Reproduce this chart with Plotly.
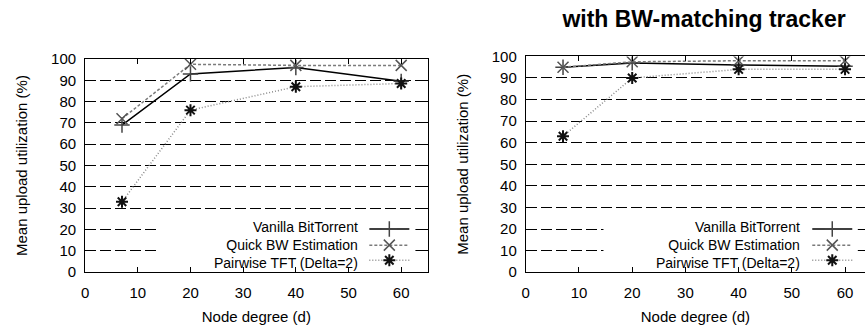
import plotly.graph_objects as go

degrees = [7, 20, 40, 60]
series_names = ["Vanilla BitTorrent", "Quick BW Estimation", "Pairwise TFT (Delta=2)"]

left_vanilla = [69, 93, 96, 89.5]
left_quick = [72, 97.5, 97, 97]
left_pairwise = [33, 76, 87, 88.5]

right_vanilla = [95, 97, 96, 95.5]
right_quick = [95, 97.5, 98, 98]
right_pairwise = [63, 90, 94, 94]

x_ticks = [0, 10, 20, 30, 40, 50, 60]
y_ticks = [0, 10, 20, 30, 40, 50, 60, 70, 80, 90, 100]

title_text = "with BW-matching tracker"
x_title = "Node degree (d)"
y_title = "Mean upload utilization (%)"

FONT = "Liberation Sans, Arial, sans-serif"

styles = [
    dict(line=dict(color="#000000", width=1.5, dash="solid"),
         marker=dict(symbol="cross-thin", size=11, color="#444444",
                     line=dict(color="#444444", width=1.5))),
    dict(line=dict(color="#7a7a7a", width=1.5, dash="3px,2px"),
         marker=dict(symbol="x-thin", size=11, color="#555555",
                     line=dict(color="#555555", width=1.5))),
    dict(line=dict(color="#8a8a8a", width=1.5, dash="1px,2px"),
         marker=dict(symbol="asterisk", size=10, color="#111111",
                     line=dict(color="#111111", width=2))),
]

legend_rows = [232, 249, 265]
panels = [
    dict(data=[left_vanilla, left_quick, left_pairwise], xa="x", ya="y",
         legend_x=362, text_x=358),
    dict(data=[right_vanilla, right_quick, right_pairwise], xa="x2", ya="y2",
         legend_x=807, text_x=801.7),
]

fig = go.Figure()
legend_layouts = {}
k = 0
for p in panels:
    for i, ys in enumerate(p["data"]):
        k += 1
        lname = "legend" if k == 1 else f"legend{k}"
        fig.add_trace(go.Scatter(x=degrees, y=ys, mode="lines+markers", name="",
                                 hovertext=series_names[i], xaxis=p["xa"], yaxis=p["ya"],
                                 legend=lname, **styles[i]))
        legend_layouts[lname] = dict(
            x=p["legend_x"] / 865, xanchor="left",
            y=1 - legend_rows[i] / 329, yanchor="middle",
            bgcolor="rgba(0,0,0,0)", borderwidth=0, itemwidth=40,
            font=dict(size=8))

axis_common = dict(showline=True, linecolor="black", linewidth=1,
                   ticks="inside", ticklen=5, tickcolor="black",
                   tickfont=dict(size=15, family=FONT, color="black"),
                   zeroline=False)

xa = dict(axis_common, range=[0, 65], tickvals=x_ticks, showgrid=False,
          mirror="ticks", ticklabelstandoff=7,
          title=dict(text=x_title, font=dict(size=15, family=FONT), standoff=11))
ya = dict(axis_common, range=[0, 100], tickvals=y_ticks, showgrid=True,
          gridcolor="black", gridwidth=1, griddash="11px,4px",
          ticklabelstandoff=5,
          title=dict(text=y_title, font=dict(size=15, family=FONT), standoff=19))

fig.update_layout(
    width=865, height=329,
    margin=dict(l=0, r=0, t=0, b=0),
    paper_bgcolor="white", plot_bgcolor="white",
    font=dict(family=FONT, size=15, color="black"),
    showlegend=True,
    xaxis=dict(xa, domain=[81.5 / 865, 425.5 / 865], anchor="y"),
    yaxis=dict(ya, domain=[1 - 277.5 / 329, 1 - 52.7 / 329], anchor="x", mirror="ticks"),
    xaxis2=dict(xa, domain=[524.2 / 865, 1.0], range=[0, 63.75], anchor="y2"),
    yaxis2=dict(ya, domain=[1 - 277.5 / 329, 1 - 50 / 329], anchor="x2", mirror=False),
    title=dict(text="<b>" + title_text + "</b>", x=704 / 865, xanchor="center",
               y=1 - 19 / 329, yanchor="middle",
               font=dict(size=23, family=FONT, color="black")),
    **legend_layouts,
)

# white key boxes hiding the grid behind the key
fig.add_shape(type="rect", xref="x", yref="y", x0=13.8, x1=62.7, y0=0.4, y1=25,
              fillcolor="white", line=dict(width=0), layer="between")
fig.add_shape(type="rect", xref="x2", yref="y2", x0=14.6, x1=62.4, y0=0.4, y1=25,
              fillcolor="white", line=dict(width=0), layer="between")

legend_text = "<br>".join(series_names)
for p in panels:
    fig.add_annotation(text=legend_text, xref="paper", yref="paper", align="right",
                       x=p["text_x"] / 865, y=1 - 248.5 / 329, xanchor="right", yanchor="middle",
                       showarrow=False, font=dict(size=14, family=FONT, color="black"))

fig.write_html("out.html")
